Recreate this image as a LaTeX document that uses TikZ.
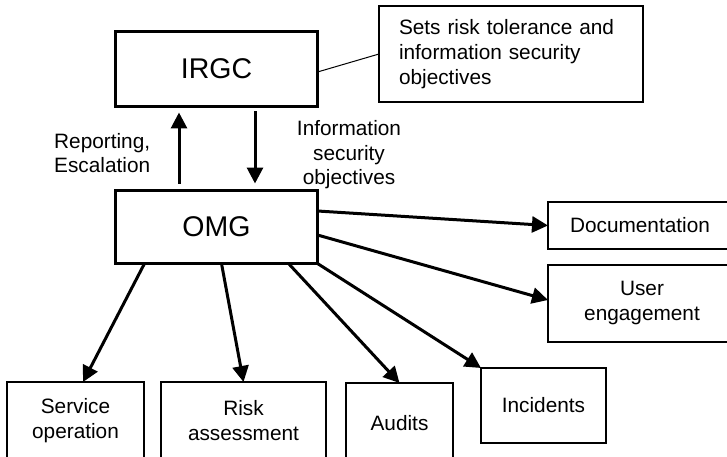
\documentclass[tikz,border=0pt]{standalone}
\usepackage{fontspec}
\setmainfont{Liberation Sans}
\usetikzlibrary{arrows.meta}
\begin{document}
\begin{tikzpicture}[x=1pt,y=-1pt,
  big/.style={draw, line width=3pt, inner sep=0pt, outer sep=0pt, font=\fontsize{28.5}{34}\selectfont},
  box/.style={draw, line width=1.3pt, inner sep=0pt, outer sep=0pt, align=center, font=\fontsize{20.8}{25}\selectfont},
  lbl/.style={inner sep=0pt, font=\fontsize{20.8}{24.5}\selectfont},
  arr/.style={line width=3pt, -{Triangle[length=16pt,width=16pt]}},
]
\useasboundingbox (0,0) rectangle (727,457);
\clip (0,0) rectangle (727,457);
\fill[white] (0,0) rectangle (727,457);
\node[big, minimum width=202pt, minimum height=75pt] (irgc) at (216.5,69) {IRGC};
\node[big, minimum width=202pt, minimum height=73pt] (omg) at (216.5,227) {OMG};
\node[box, minimum width=264pt, minimum height=96pt, text width=224pt, align=left, inner xsep=20pt] (sets) at (511,54) {Sets risk tolerance and\\information security\\objectives};
\node[box, minimum width=184pt, minimum height=47pt] (doc) at (640,225.5) {Documentation};
\node[box, minimum width=188pt, minimum height=77pt] (user) at (642,303.5) {User\\engagement};
\node[box, minimum width=125pt, minimum height=75pt] (inc) at (543.5,405.5) {Incidents};
\node[box, minimum width=107pt, minimum height=80pt] (aud) at (399.5,423) {Audits};
\node[box, minimum width=137pt, minimum height=78pt] (serv) at (75.5,421) {Service\\operation};
\node[box, minimum width=165pt, minimum height=78pt] (risk) at (243.5,421) {Risk\\assessment};
\node[lbl, align=left, anchor=west] (rep) at (54,153) {Reporting,\\Escalation};
\node[lbl, align=center] (info) at (349,155) {Information\\security\\objectives};
\draw[arr] ([xshift=-37.5pt,yshift=7pt]omg.north) -- ([xshift=-37.5pt,yshift=-6pt]irgc.south);
\draw[arr] ([xshift=38.5pt,yshift=-5pt]irgc.south) -- ([xshift=38.5pt,yshift=7pt]omg.north);
\draw[arr] ([yshift=16pt]omg.east) -- (doc.west);
\draw[arr] ([yshift=-8pt]omg.east) -- ([yshift=3.5pt]user.west);
\draw[arr] (omg.south east) -- (inc.north west);
\draw[arr] ([xshift=173pt]omg.south west) -- (aud.north);
\draw[arr] ([xshift=106pt]omg.south west) -- (risk.north);
\draw[arr] ([xshift=29pt]omg.south west) -- ([xshift=7.5pt]serv.north);
\draw[line width=1pt] ([yshift=-3pt]irgc.east) -- (sets.west);
\end{tikzpicture}
\end{document}
